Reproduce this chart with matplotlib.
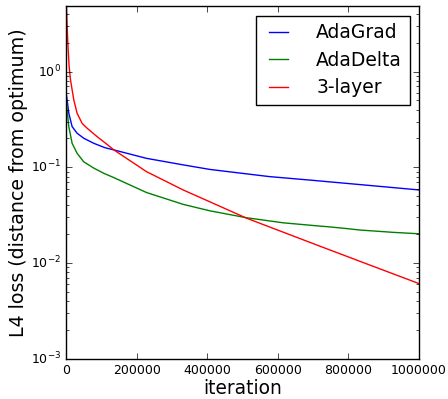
import matplotlib
matplotlib.use("Agg")
import matplotlib.pyplot as plt

# values
adagrad_it = [0, 2300, 7100, 16500, 30600, 49600, 78000, 110000, 137600, 227500,
              331300, 407000, 575000, 690800, 842000, 1000000]
adagrad = [0.58, 0.505, 0.367, 0.266, 0.227, 0.201, 0.178, 0.160, 0.151, 0.124,
           0.106, 0.095, 0.080, 0.0735, 0.0655, 0.058]

adadelta_it = [0, 2300, 7100, 16500, 30600, 49600, 78000, 106400, 134800, 227500,
               331300, 407000, 511200, 615000, 719000, 738000, 785000, 833000,
               880000, 927000, 1000000]
adadelta = [0.52, 0.397, 0.266, 0.178, 0.140, 0.114, 0.098, 0.0865, 0.078, 0.0545,
            0.041, 0.0351, 0.0297, 0.0263, 0.0243, 0.024, 0.0231, 0.0221,
            0.0215, 0.0209, 0.0202]

layer3_it = [0, 2000, 4300, 7900, 11900, 21300, 30600, 44800, 59000, 87400,
             110000, 134800, 227500, 331300, 407000, 511200, 615000, 719000,
             880000, 1000000]
layer3 = [5.5, 3.2, 2.0, 1.15, 0.818, 0.505, 0.367, 0.288, 0.256, 0.209,
          0.180, 0.152, 0.090, 0.058, 0.0436, 0.0294, 0.0210, 0.0150,
          0.00895, 0.0061]

xticks = [0, 200000, 400000, 600000, 800000, 1000000]

plt.style.use("classic")
fig = plt.figure(figsize=(4.48, 3.99), dpi=100)
fig.patch.set_facecolor("white")
ax = fig.add_axes([0.148, 0.101, 0.787, 0.883])

ax.plot(adagrad_it, adagrad, color="b", lw=1.0, label="AdaGrad")
ax.plot(adadelta_it, adadelta, color="g", lw=1.0, label="AdaDelta")
ax.plot(layer3_it, layer3, color="r", lw=1.0, label="3-layer")

ax.set_yscale("log")
ax.set_xlim(0, 1000000)
ax.set_ylim(1e-3, 4.8)
ax.set_xticks(xticks)
ax.set_xticklabels([str(t) for t in xticks])
ax.tick_params(labelsize=9)

ax.set_xlabel("iteration", fontsize=13.4, labelpad=1)
ax.set_ylabel("L4 loss (distance from optimum)", fontsize=13.7, labelpad=2)

leg = ax.legend(loc="upper right", fontsize=13.5, handlelength=1.6,
                borderaxespad=0.5, labelspacing=0.45, handletextpad=1.2)
leg.get_frame().set_linewidth(1.0)

fig.savefig("out.png", dpi=100, facecolor="white")
